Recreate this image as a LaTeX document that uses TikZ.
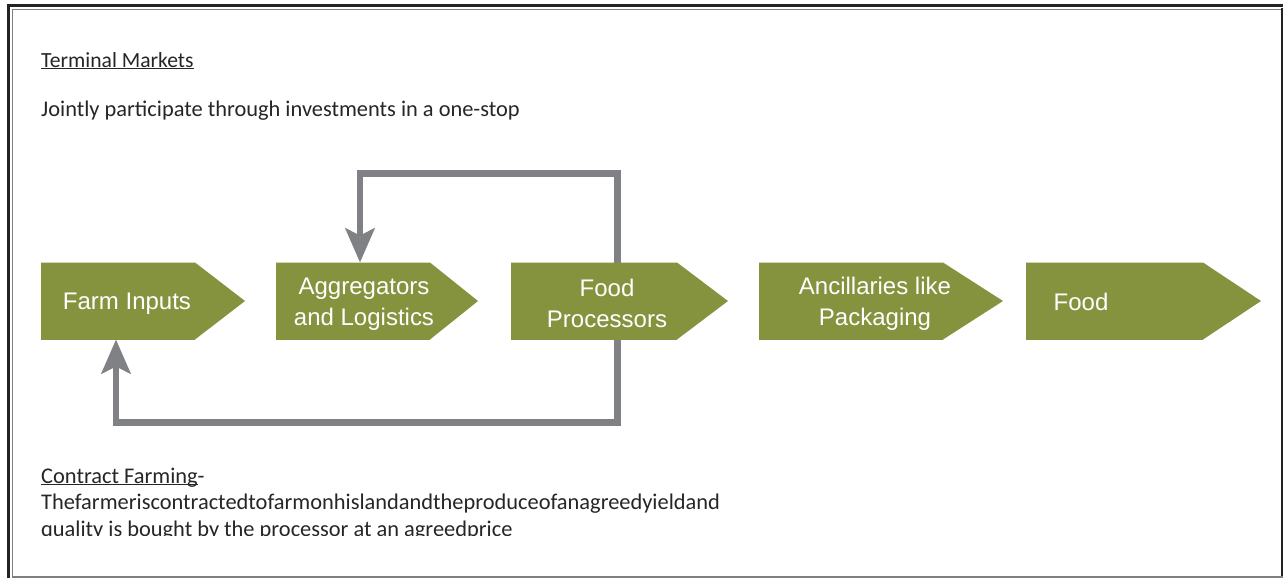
\documentclass[tikz,border=0pt]{standalone}
\usepackage{fontspec}
\setmainfont{Carlito}
\newfontfamily\boxfont{Liberation Sans}
\usetikzlibrary{arrows.meta}
\definecolor{olive}{RGB}{133,147,62}
\definecolor{loopgray}{RGB}{128,129,133}
\definecolor{framedark}{RGB}{35,35,35}
\newcommand\myul[1]{\setbox0\hbox{#1}\rlap{\rule[-2.4pt]{\wd0}{1.3pt}}\box0}
\begin{document}
\begin{tikzpicture}[x=1pt,y=-1pt,
  body/.style={fill=olive,draw=none,inner sep=0,outer sep=0,minimum height=77pt},
  boxtxt/.style={text=white,font=\boxfont\fontsize{24}{31}\selectfont,align=center,inner sep=0},
  para/.style={anchor=base west,inner sep=0,font=\fontsize{22.4}{25}\selectfont,text=black!85},
  conn/.style={draw=loopgray,line width=6.5pt,line cap=butt,line join=miter},
  tipstyle/.style={-{Stealth[length=34pt,width=29pt,inset=7pt]}}]
\useasboundingbox (0,0) rectangle (1283,578);
\fill[white] (0,0) rectangle (1283,578);
% frame
\draw[framedark,line width=3pt] (8.5,578) -- (8.5,5.5) -- (1283,5.5);
\draw[gray,line width=1pt] (12,578) -- (12,9.5) -- (1281,9.5);
\draw[framedark,line width=2pt] (1281.8,8) -- (1281.8,578);
\draw[gray,line width=1.5pt] (12,577.2) -- (1283,577.2);
% texts
\node[para,font=\fontsize{21.6}{25}\selectfont] (tm) at (41,67) {\myul{Terminal Markets}};
\node[para] (jp) at (41,117) {Jointly participate through investments in a one-stop};
\node[para] (cf) at (41,483) {\myul{Contract Farming}-};
\node[para] (t1) at (41,509) {Thefarmeriscontractedtofarmonhislandandtheproduceofanagreedyieldand};
\begin{scope}
\clip (0,0) rectangle (1283,535.5);
\node[para] (t2) at (41,536) {quality is bought by the processor at an agreedprice};
\end{scope}
% body rectangles (placed first so connectors can use them)
\node[body,minimum width=154pt] (fi) at (118,301) {};
\node[body,minimum width=154pt] (ag) at (353,301) {};
\node[body,minimum width=166pt] (pr) at (594,301) {};
\node[body,minimum width=184pt] (an) at (851,301) {};
\node[body,minimum width=177pt] (fo) at (1114.5,301) {};
% loop connectors
\draw[conn,tipstyle] ([xshift=23.5pt]pr.north) -- ++(0,-89) -| ([xshift=7pt]ag.north);
\draw[conn,tipstyle] ([xshift=23.5pt]pr.south) -- ++(0,83) -| ([xshift=-2pt]fi.south);
% chevrons drawn over the connectors
\foreach \n/\t in {fi/245,ag/478,pr/728,an/1003,fo/1261}{
  \fill[olive] (\n.north west) -- (\n.north east) -- (\t,301) -- (\n.south east) -- (\n.south west) -- cycle;
}
% box texts
\node[boxtxt,anchor=base] (fi-t) at (127,309) {Farm Inputs};
\node[boxtxt] (ag-t) at (364,304) {Aggregators\\and Logistics};
\node[boxtxt] (pr-t) at (607,303.5) {Food\\Processors};
\node[boxtxt] (an-t) at (875,304) {Ancillaries like\\Packaging};
\node[boxtxt,anchor=base] (fo-t) at (1081,310) {Food};
\end{tikzpicture}
\end{document}
